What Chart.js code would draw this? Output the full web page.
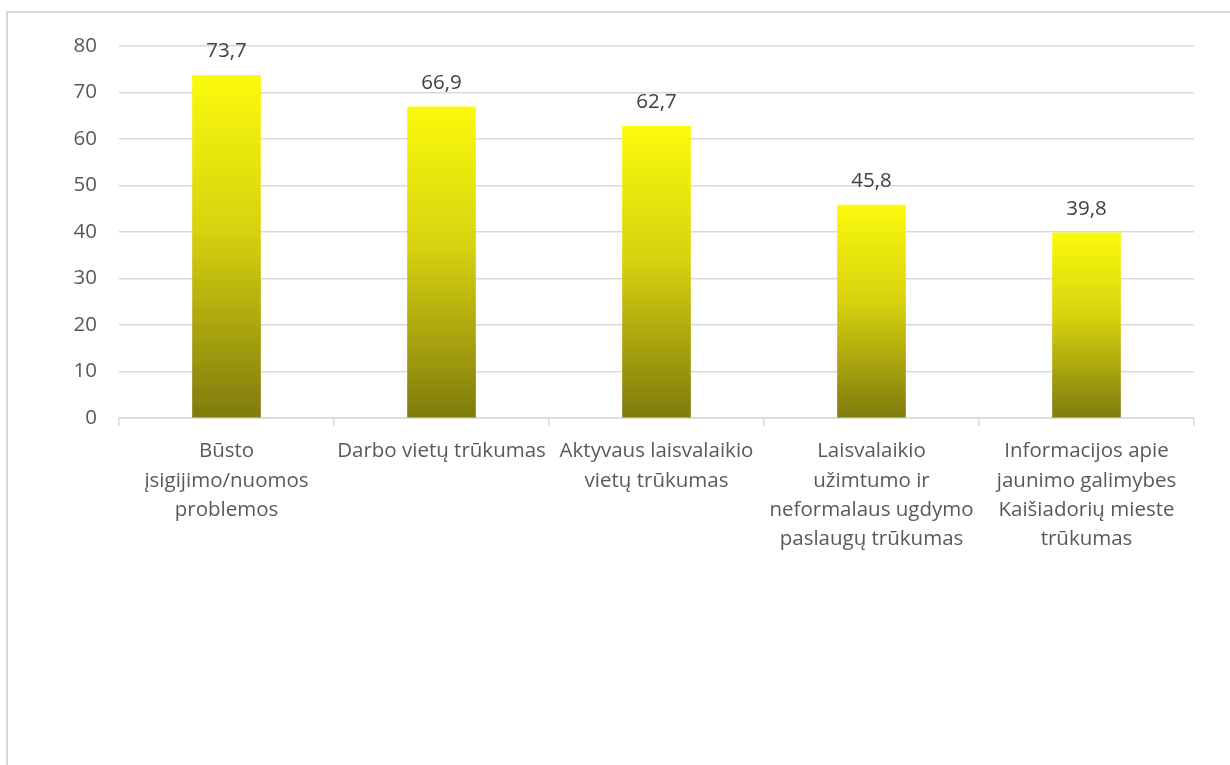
<!DOCTYPE html>
<html>
<head>
<meta charset="utf-8">
<script src="https://cdn.jsdelivr.net/npm/chart.js@4.4.1/dist/chart.umd.min.js"></script>
<style>
  html, body { margin: 0; padding: 0; background: #fff; overflow: hidden; }
  #frame {
    position: absolute; left: 6px; top: 11px; width: 1300px; height: 800px;
    border-left: 2px solid #d9d9d9; border-top: 2px solid #d9d9d9;
  }
  #wrap { position: absolute; left: 0; top: 0; width: 1230px; height: 765px; }
</style>
</head>
<body>
<div id="frame"></div>
<div id="wrap"><canvas id="chart"></canvas></div>
<script>
const categories = [
  ["Būsto", "įsigijimo/nuomos", "problemos"],
  ["Darbo vietų trūkumas"],
  ["Aktyvaus laisvalaikio", "vietų trūkumas"],
  ["Laisvalaikio", "užimtumo ir", "neformalaus ugdymo", "paslaugų trūkumas"],
  ["Informacijos apie", "jaunimo galimybes", "Kaišiadorių mieste", "trūkumas"]
];
const values = [73.7, 66.9, 62.7, 45.8, 39.8];
const yTicks = [0, 10, 20, 30, 40, 50, 60, 70, 80];

const FONT = "'Open Sans', 'Noto Sans', sans-serif";

// gradient per bar: bright yellow on top, olive at the base
function barGradient(context) {
  const chart = context.chart;
  if (!chart.chartArea || context.type !== "data") return "#d0cb0e";
  const y = chart.scales.y;
  const top = y.getPixelForValue(context.raw);
  const bottom = y.getPixelForValue(0);
  const g = chart.ctx.createLinearGradient(0, top, 0, bottom);
  g.addColorStop(0, "#fbfa0c");
  g.addColorStop(0.45, "#d8d20f");
  g.addColorStop(1, "#7f7b0d");
  return g;
}

const valueLabels = {
  id: "valueLabels",
  afterDatasetsDraw(chart) {
    const ctx = chart.ctx;
    const meta = chart.getDatasetMeta(0);
    ctx.save();
    ctx.font = "20.5px " + FONT;
    ctx.fillStyle = "#404040";
    ctx.textAlign = "center";
    ctx.textBaseline = "alphabetic";
    meta.data.forEach((bar, i) => {
      ctx.fillText(values[i].toFixed(1).replace(".", ","), bar.x, bar.y - 18);
    });
    ctx.restore();
  }
};

new Chart(document.getElementById("chart"), {
  type: "bar",
  data: {
    labels: categories,
    datasets: [{
      data: values,
      backgroundColor: barGradient,
      borderWidth: 0,
      barThickness: 68
    }]
  },
  options: {
    responsive: true,
    maintainAspectRatio: false,
    devicePixelRatio: 1,
    animation: false,
    layout: { padding: { top: 46, right: 36, left: 0, bottom: 0 } },
    plugins: { legend: { display: false }, tooltip: { enabled: false } },
    scales: {
      x: {
        grid: { drawOnChartArea: false, color: "#d9d9d9", lineWidth: 1.5, tickLength: 8 },
        border: { color: "#d9d9d9", width: 1.5 },
        ticks: {
          color: "#595959",
          font: { family: FONT, size: 20.5, lineHeight: 1.42 },
          maxRotation: 0,
          autoSkip: false,
          padding: 11
        },
        afterFit(scale) { scale.height = 347; }
      },
      y: {
        min: 0,
        max: 80,
        afterBuildTicks(scale) { scale.ticks = yTicks.map(v => ({ value: v })); },
        grid: { color: "#d9d9d9", lineWidth: 1.5, drawTicks: false },
        border: { display: false },
        ticks: {
          color: "#595959",
          font: { family: FONT, size: 20.5 },
          padding: 22
        },
        afterFit(scale) { scale.width = 119; }
      }
    }
  },
  plugins: [valueLabels]
});
</script>
</body>
</html>
